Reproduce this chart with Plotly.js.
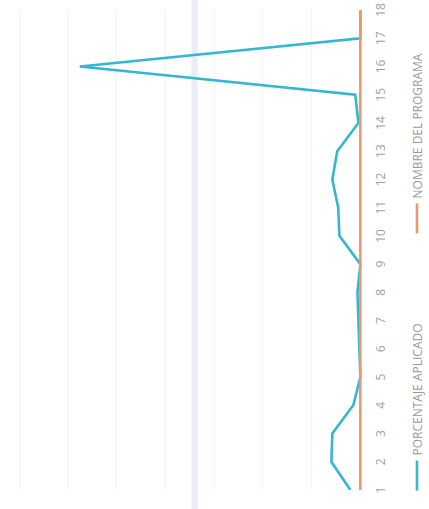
<!DOCTYPE html>
<html>
<head>
<meta charset="utf-8">
<script src="https://cdn.plot.ly/plotly-3.0.1.min.js"></script>
<style>
  html, body { margin: 0; padding: 0; width: 429px; height: 509px; overflow: hidden; background: #fff; }
  #wrap { position: absolute; left: 0; top: 0; width: 509px; height: 429px;
          transform-origin: 0 0; transform: translateY(509px) rotate(-90deg); }
  #chart { width: 509px; height: 429px; }
</style>
</head>
<body>
<div id="wrap"><div id="chart"></div></div>
<script>
const categories = ['1','2','3','4','5','6','7','8','9','10','11','12','13','14','15','16','17','18'];
const porcentajeAplicado = [4.1, 11.9, 11.5, 2.9, 0, 0.4, 0.8, 1.2, 0, 8.6, 9.1, 11.5, 9.5, 0.8, 2.1, 115.2, 0, 0];
const nombrePrograma = [0, 0, 0, 0, 0, 0, 0, 0, 0, 0, 0, 0, 0, 0, 0, 0, 0, 0];
const seriesNames = ['PORCENTAJE APLICADO', 'NOMBRE DEL PROGRAMA'];

const traces = [
  { x: categories, y: porcentajeAplicado, name: seriesNames[0], type: 'scatter', mode: 'lines',
    legend: 'legend', line: { color: '#35b6d1', width: 2.6 } },
  { x: categories, y: nombrePrograma, name: seriesNames[1], type: 'scatter', mode: 'lines',
    legend: 'legend2', line: { color: '#ee976b', width: 2.6 } }
];

const legendFont = { family: 'Open Sans, sans-serif', size: 12, color: '#999999' };

const layout = {
  width: 509, height: 429,
  margin: { l: 19, r: 10, t: 0, b: 65, pad: 0, autoexpand: false },
  paper_bgcolor: '#ffffff', plot_bgcolor: '#ffffff',
  font: { family: 'Open Sans, sans-serif', color: '#999999' },
  showlegend: true,
  legend: { orientation: 'h', x: -0.0115, xanchor: 'left', yref: 'container', y: 0.028, yanchor: 'middle',
            font: legendFont, bgcolor: 'rgba(0,0,0,0)' },
  legend2: { orientation: 'h', x: 0.524, xanchor: 'left', yref: 'container', y: 0.028, yanchor: 'middle',
            font: legendFont, bgcolor: 'rgba(0,0,0,0)' },
  xaxis: { type: 'category', range: [0, 17], showgrid: false, zeroline: false, showline: false,
           ticks: 'outside', ticklen: 6, tickcolor: 'rgba(0,0,0,0)',
           tickfont: { size: 12, color: '#a0a0a0' } },
  yaxis: { range: [-1.5, 148], dtick: 20, showgrid: true, gridcolor: '#f3f3f6', gridwidth: 1,
           zeroline: false, showline: false, showticklabels: false, ticks: '' },
  shapes: [
    { type: 'rect', xref: 'paper', yref: 'paper', x0: -0.04, x1: 1.03, y0: 0.457, y1: 0.474,
      fillcolor: '#eceef6', line: { width: 0 }, layer: 'below' }
  ]
};

Plotly.newPlot('chart', traces, layout, { displayModeBar: false, staticPlot: true });
</script>
</body>
</html>
